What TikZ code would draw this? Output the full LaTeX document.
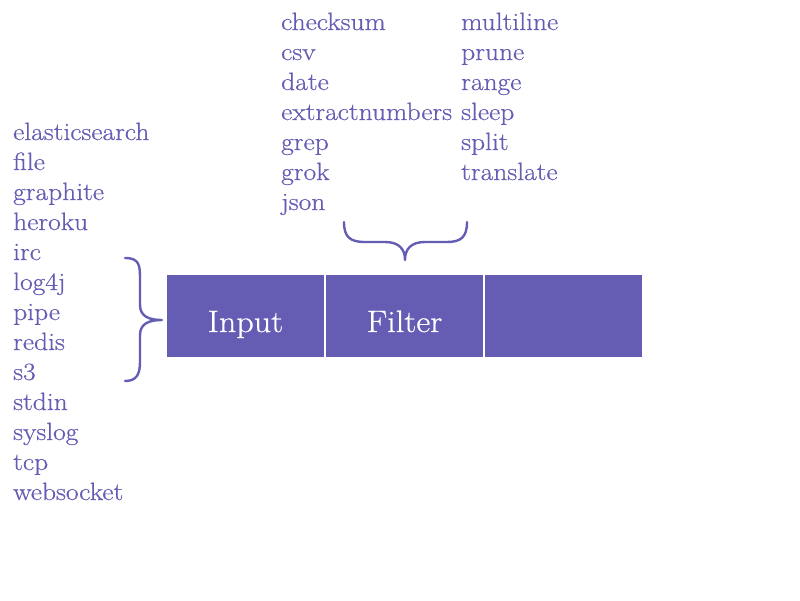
\documentclass[tikz,border=0pt]{standalone}
\usepackage{fontspec}
\newfontfamily\lsfont{Latin Modern Roman}[FakeBold=0.6, FakeStretch=1.1]
\definecolor{lspurple}{HTML}{645DB3}
\tikzset{
  item/.style={anchor=base west, inner sep=0pt, text=lspurple, font=\lsfont\fontsize{25}{30}\selectfont},
  stage/.style={fill=lspurple, draw=none, minimum width=157pt, minimum height=82pt, inner sep=0pt,
    text height=32pt, text depth=0pt, text=white, font=\lsfont\fontsize{31}{36}\selectfont},
  brace/.style={draw=lspurple, line width=2.4pt, line cap=round, line join=round}
}
\begin{document}
\begin{tikzpicture}[x=1pt,y=-1pt]
\useasboundingbox (0,0) rectangle (800,600);
% stages
\node[stage] (input) at (245.5,316) {Input};
\node[stage] (filter) at (404.5,316) {Filter};
\node[stage] (output) at (563,316) {};
% left list
\foreach \t [count=\i from 0] in {elasticsearch,file,graphite,heroku,irc,log4j,pipe,redis,s3,stdin,syslog,tcp,websocket}
  \node[item] (in\i) at (13,{140+30*\i}) {\t};
% filter lists
\foreach \t [count=\i from 0] in {checksum,csv,date,extractnumbers,grep,grok,json}
  \node[item] (fa\i) at (281,{30+30*\i}) {\t};
\foreach \t [count=\i from 0] in {multiline,prune,range,sleep,split,translate}
  \node[item] (fb\i) at (461,{30+30*\i}) {\t};
% braces
\coordinate (lbtip) at (162,320);
\coordinate (tbtip) at (405,260);
\draw[brace] (125,258) .. controls (140,258) and (140,266) .. (140,280) -- (140,305)
  .. controls (140,317) and (150,320) .. (lbtip)
  .. controls (150,320) and (140,323) .. (140,335) -- (140,362)
  .. controls (140,375) and (136,381) .. (125,381);
\draw[brace] (344,222) .. controls (344,237) and (350,242) .. (365,242) -- (385,242)
  .. controls (399,242) and (405,249) .. (tbtip)
  .. controls (405,249) and (411,242) .. (425,242) -- (447,242)
  .. controls (461,242) and (467,237) .. (467,222);
\end{tikzpicture}
\end{document}
